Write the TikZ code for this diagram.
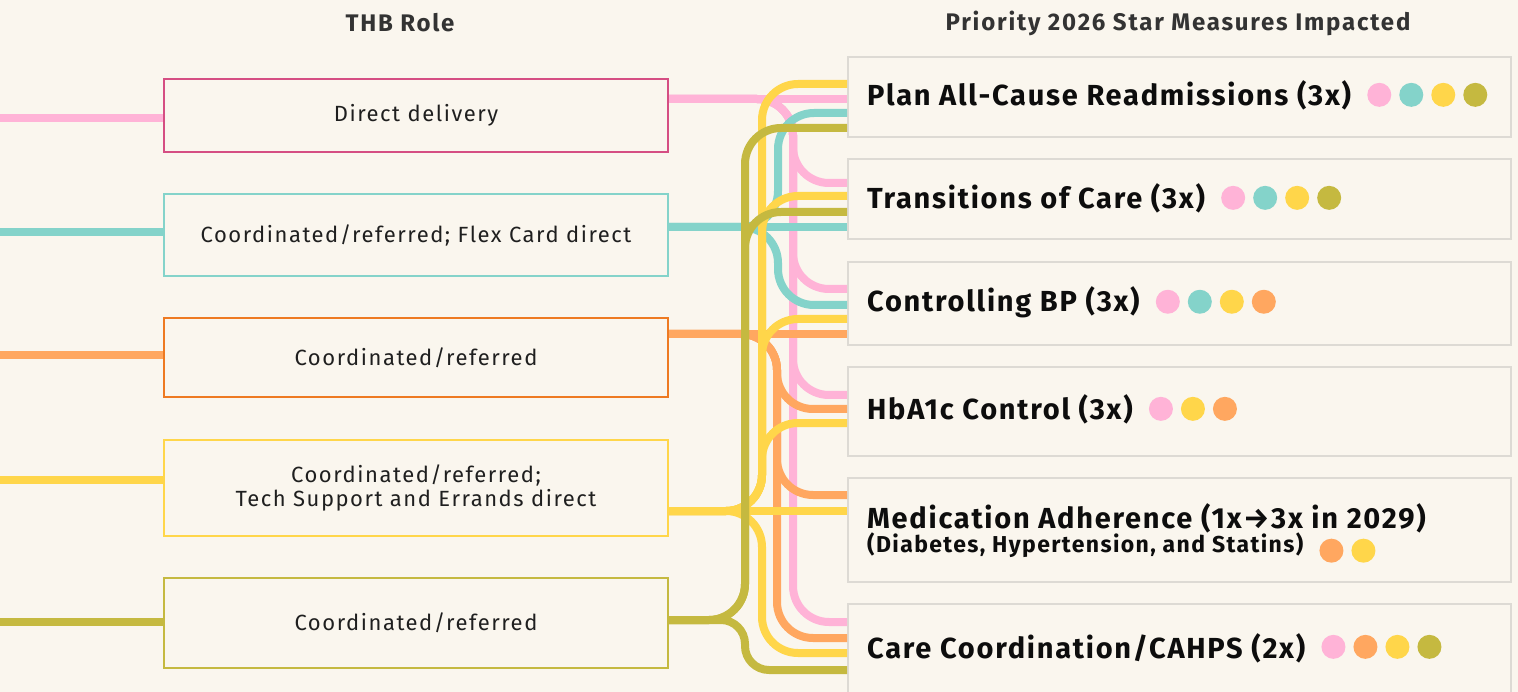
\documentclass[tikz,border=0pt]{standalone}
\usepackage{fontspec}
\setmainfont{Fira Sans}
\newfontfamily\roleface[LetterSpace=7]{Fira Sans}
\newfontfamily\titleface[LetterSpace=6]{Fira Sans}
\newfontfamily\headface[LetterSpace=7.5]{Fira Sans}
\usetikzlibrary{positioning}

\definecolor{paper}{HTML}{FAF6EE}
\definecolor{boxGray}{HTML}{DDDAD4}
\definecolor{thbPink}{HTML}{FFB3D7}
\definecolor{thbPinkDk}{HTML}{D54E83}
\definecolor{thbTeal}{HTML}{84D3CA}
\definecolor{thbOrange}{HTML}{FFA760}
\definecolor{thbOrangeDk}{HTML}{EE7A22}
\definecolor{thbYellow}{HTML}{FFD64A}
\definecolor{thbOlive}{HTML}{C5B940}

\tikzset{
  role/.style={draw, line width=2pt, fill=paper, minimum width=504pt,
    align=center, text=black!88, font=\roleface\fontsize{22pt}{24pt}\selectfont},
  measure/.style={draw=boxGray, line width=2pt, fill=paper, minimum width=663pt},
  title/.style={anchor=base west, inner sep=0pt, text=black!95,
    font=\titleface\bfseries\fontsize{29pt}{32pt}\selectfont},
  subtitle/.style={title, font=\titleface\bfseries\fontsize{23pt}{26pt}\selectfont},
  head/.style={text=black!80, font=\headface\bfseries\fontsize{24pt}{28pt}\selectfont},
  link/.style={line width=8pt, rounded corners=36pt},
}

\begin{document}
\begin{tikzpicture}[x=1pt, y=-1pt]

% Canvas
\path[use as bounding box, fill=paper] (0,0) rectangle (1518,692);
\clip (0,0) rectangle (1518,692);

% Column headings
\node[head] (roleHead) at (400,23) {THB Role};
\node[head] (measHead) at (1178,23) {Priority 2026 Star Measures Impacted};

% Roles (left column)
\node[role, draw=thbPinkDk, minimum height=73pt] (direct) at (416,115.5) {Direct delivery};
\node[role, draw=thbTeal, minimum height=82pt] (flex) at (416,235) {Coordinated/referred; Flex Card direct};
\node[role, draw=thbOrangeDk, minimum height=79pt] (coord) at (416,357.5) {Coordinated/referred};
\node[role, draw=thbYellow, minimum height=96pt] (errands) at (416,488) {Coordinated/referred;\\Tech Support and Errands direct};
\node[role, draw=thbOlive, minimum height=90pt] (referred) at (416,623) {Coordinated/referred};

% Measures (right column)
\node[measure, minimum height=80pt] (pcr) at (1179.5,97) {};
\node[measure, minimum height=80pt] (trc) at (1179.5,199) {};
\node[measure, minimum height=83pt] (cbp) at (1179.5,303.5) {};
\node[measure, minimum height=89pt] (hbd) at (1179.5,411.5) {};
\node[measure, minimum height=104pt] (mad) at (1179.5,530) {};
\node[measure, minimum height=104pt] (coa) at (1179.5,656) {};

\node[title] (pcrT) at (867,106) {Plan All-Cause Readmissions (3x)};
\node[title] (trcT) at (867,209) {Transitions of Care (3x)};
\node[title] (cbpT) at (867,312) {Controlling BP (3x)};
\node[title] (hbdT) at (867,420) {HbA1c Control (3x)};
\node[title] (madT) at (867,528) {Medication Adherence (1x→3x in 2029)};
\node[subtitle] (madS) at (867,552) {(Diabetes, Hypertension, and Statins)};
\node[title] (coaT) at (867,658) {Care Coordination/CAHPS (2x)};

% Role dots after each measure
\foreach \t/\dy/\cols in {pcrT/-1/{thbPink,thbTeal,thbYellow,thbOlive},
                          trcT/-1/{thbPink,thbTeal,thbYellow,thbOlive},
                          cbpT/-1/{thbPink,thbTeal,thbYellow,thbOrange},
                          hbdT/-1/{thbPink,thbYellow,thbOrange},
                          madS/6/{thbOrange,thbYellow},
                          coaT/-1/{thbPink,thbOrange,thbYellow,thbOlive}}
  \foreach \c [count=\i] in \cols
    \fill[\c] (\t.east) ++(32*\i-4,\dy) circle (12pt);

% Feeds into the roles
\coordinate (pkIn) at (0,118);
\coordinate (tlIn) at (0,232);
\coordinate (orIn) at (0,355);
\coordinate (ylIn) at (0,480);
\coordinate (olIn) at (0,622);
\draw[link, thbPink] (pkIn) -- (pkIn -| direct.west);
\draw[link, thbTeal] (tlIn) -- (tlIn -| flex.west);
\draw[link, thbOrange] (orIn) -- (orIn -| coord.west);
\draw[link, thbYellow] (ylIn) -- (ylIn -| errands.west);
\draw[link, thbOlive] (olIn) -- (olIn -| referred.west);

% Exits and lanes
\path (direct.east) ++(0,-16.5) coordinate (pkOut);
\path (flex.east) ++(0,-8) coordinate (tlOut);
\path (coord.east) ++(0,-23.5) coordinate (orOut);
\path (errands.east) ++(0,23) coordinate (ylOut);
\path (referred.east) ++(0,-3) coordinate (olOut);
\coordinate (olLane) at (745,0);
\coordinate (ylLane) at (762,0);
\coordinate (orLane) at (777,0);
\coordinate (tlLane) at (778,0);
\coordinate (pkLane) at (793,0);

% Entry points on the measures
\foreach \b/\c/\dy in {pcr/yl/-13, pcr/pk/2, pcr/tl/16, pcr/ol/31,
                       trc/pk/-16, trc/yl/-3, trc/ol/13, trc/tl/28,
                       cbp/pk/-14.5, cbp/tl/1.5, cbp/yl/15.5, cbp/or/30.5,
                       hbd/pk/-16.5, hbd/or/-2.5, hbd/yl/11.5,
                       mad/or/-35, mad/yl/-19,
                       coa/pk/-34, coa/or/-18, coa/yl/-3, coa/ol/14}
  \path (\b.west) ++(0,\dy) coordinate (\b-\c);

% Pink: direct delivery
\draw[link, thbPink] (pkOut) -- (pcr-pk);
\foreach \b in {trc,cbp,hbd,coa}
  \draw[link, thbPink] (pkOut) -| (pkLane |- \b-pk) -- (\b-pk);

% Teal
\draw[link, thbTeal] (tlOut) -- (trc-tl);
\foreach \b in {pcr,cbp}
  \draw[link, thbTeal] (tlOut) -| (tlLane |- \b-tl) -- (\b-tl);

% Orange
\draw[link, thbOrange] (orOut) -- (cbp-or);
\foreach \b in {hbd,mad,coa}
  \draw[link, thbOrange] (orOut) -| (orLane |- \b-or) -- (\b-or);

% Yellow
\draw[link, thbYellow] (ylOut) -- (mad-yl);
\foreach \b in {pcr,trc,cbp,hbd,coa}
  \draw[link, thbYellow] (ylOut) -| (ylLane |- \b-yl) -- (\b-yl);

% Olive
\foreach \b in {pcr,trc}
  \draw[link, thbOlive] (olOut) -| (olLane |- \b-ol) -- (\b-ol);
\draw[link, thbOlive, rounded corners=24pt] (olOut) -| (olLane |- coa-ol) -- (coa-ol);

\end{tikzpicture}
\end{document}
